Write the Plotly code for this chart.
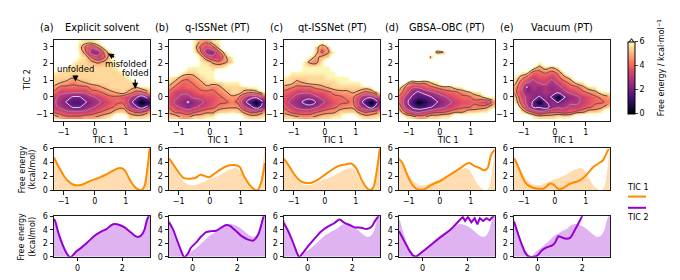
import plotly.graph_objects as go

W, H = 680, 280
FONT = "DejaVu Sans"

# ---------------- data ----------------
panel_letters = ["(a)", "(b)", "(c)", "(d)", "(e)"]
panel_names = ["Explicit solvent", "q-ISSNet (PT)", "qt-ISSNet (PT)", "GBSA–OBC (PT)", "Vacuum (PT)"]

# 2D free-energy grids (kcal/mol); rows from TIC2=3.3 (top) to -1.2 (bottom)
fes_x = [-1.3, -1.1, -0.9, -0.7, -0.5, -0.3, -0.1, 0.1, 0.3, 0.5, 0.7, 0.9, 1.1, 1.3, 1.5, 1.7]
fes_y = [3.3, 3.0, 2.7, 2.4, 2.1, 1.8, 1.5, 1.2, 0.9, 0.6, 0.3, 0.0, -0.3, -0.6, -0.9, -1.2]
# code letter -> free energy (kcal/mol); '.' = unsampled
fes_code = {'.': 8.0, '0': 0.0, 'a': 0.8, '1': 1.5, 'b': 2.0, '2': 2.5, 'c': 2.9, '3': 3.3,
            'd': 3.7, '4': 4.05, 'e': 4.4, '5': 4.75, 'f': 5.1, '6': 5.5, '7': 5.9}

fes_a = [
    "....7667........",
    "....643e6.......",
    "....7e22e6......",
    "....764346......",
    "...766f5f67.....",
    "..766666667.....",
    "766666666667....",
    "666f666666667...",
    "6f5e5f66666667..",
    "544444e5f6666f67",
    "43333344e5f65445",
    "3c2bb2c3d44d3212",
    "32b11b2c3d44c10a",
    "3c2bb2c3d4e53212",
    "4d3333d4e5665445",
    "65eee55f67..6667",
]
fes_b = [
    "....75e67.......",
    "....64346.......",
    "....7e2246......",
    ".....643357.....",
    ".....765e56.....",
    "...7777667......",
    "..766777........",
    "765e5677........",
    "6544e5666777....",
    "54d44e5e5666677.",
    "4333d444e5665e56",
    "d3cc33dd4e5e3223",
    "dc2b2c3d44e4210b",
    "43c2c3d4e5553212",
    "544d4e5566765445",
    "66556677....7667",
]
fes_c = [
    "......7.........",
    ".....6ef........",
    ".....6457.......",
    "....75f6........",
    "...75e7.........",
    "...77777........",
    ".77777777.......",
    "76666667777.....",
    "665f666667777...",
    "5e444e5f6666667.",
    "4d333dd4e55f54e6",
    "d3c22c3d44ee3223",
    "dc2b1bc3d44ec10b",
    "43c22c3d4e55321c",
    "54ddd4e5566654e5",
    "66f55f6677..7667",
]
fes_d = [
    "................",
    "................",
    "......e5........",
    ".....5..........",
    "................",
    "................",
    "................",
    "................",
    ".7e5ef7.........",
    "6433d4e5567.....",
    "5d2b2c3d44e567..",
    "4cb11b2c3d44e567",
    "4210a1b2c3dd4d3e",
    "5cb11b2c3d44ee56",
    "643c3d44e556677.",
    ".76556677.......",
]
fes_e = [
    "................",
    "................",
    "................",
    "................",
    "....7...........",
    "...756f7........",
    ".7644e4e7.......",
    "7543dd3456......",
    "643c33c34e67....",
    "5dbc2c2c344567..",
    "53222c22c3d4e567",
    "6dc2b2b0b2c3d4e5",
    "74cb0b2b2cc3d44e",
    ".53bb12cc33d4e56",
    ".7543d44d4e5667.",
    "...7666777......",
]
fes_maps = [fes_a, fes_b, fes_c, fes_d, fes_e]

# 1D free energy along TIC 1 (reference = explicit solvent, shaded)
tic1_ref_x = [-1.31, -1.2, -1.1, -1.0, -0.9, -0.8, -0.7, -0.6, -0.5, -0.4, -0.3, -0.2, -0.1, 0.0, 0.1,
              0.2, 0.3, 0.4, 0.5, 0.6, 0.7, 0.8, 0.9, 1.0, 1.1, 1.2, 1.3, 1.4, 1.5, 1.6, 1.7, 1.77]
tic1_ref_fe = [4.7, 3.7, 2.9, 2.1, 1.5, 1.1, 0.8, 0.7, 0.7, 0.8, 1.0, 1.2, 1.4, 1.55, 1.7,
               1.9, 2.1, 2.35, 2.6, 2.85, 3.05, 3.2, 3.1, 2.6, 1.7, 0.95, 0.4, 0.08, 0.0, 0.6, 3.4, 6.3]
tic1_b_x = [-1.31, -1.28, -1.12, -0.96, -0.85, -0.68, -0.47, -0.3, -0.2, -0.03, 0.13, 0.35, 0.57, 0.78,
            0.95, 1.1, 1.27, 1.43, 1.54, 1.65, 1.77]
tic1_b_fe = [4.6, 4.4, 3.35, 2.3, 1.75, 1.65, 1.75, 2.2, 2.1, 1.85, 2.3, 3.0, 3.5, 3.6,
             3.4, 2.0, 0.8, 0.1, 0.0, 1.05, 3.9]
tic1_c_x = [-1.31, -1.13, -0.97, -0.81, -0.65, -0.43, -0.22, 0.0, 0.22, 0.43, 0.65, 0.86, 1.02, 1.18,
            1.34, 1.45, 1.56, 1.72, 1.77]
tic1_c_fe = [4.5, 3.35, 2.2, 1.4, 1.05, 1.05, 1.5, 2.2, 2.9, 3.45, 3.7, 3.8, 3.1, 1.5,
             0.37, 0.0, 0.4, 4.3, 6.0]
tic1_d_x = [-1.31, -1.2, -1.09, -0.98, -0.87, -0.76, -0.65, -0.48, -0.32, -0.15, 0.01, 0.18, 0.34, 0.5,
            0.67, 0.84, 0.95, 1.11, 1.27, 1.43, 1.54, 1.65, 1.76]
tic1_d_fe = [4.5, 3.9, 2.7, 1.55, 0.7, 0.23, 0.05, 0.14, 0.6, 1.0, 1.3, 1.8, 2.25, 2.7,
             3.2, 3.75, 3.9, 3.5, 3.2, 2.85, 3.2, 5.1, 5.8]
tic1_e_x = [-1.31, -1.27, -1.16, -1.05, -0.95, -0.84, -0.68, -0.52, -0.36, -0.26, -0.15, -0.04, 0.06,
            0.17, 0.28, 0.44, 0.6, 0.76, 0.91, 1.07, 1.23, 1.39, 1.55, 1.66, 1.74]
tic1_e_fe = [4.6, 4.3, 3.2, 2.0, 1.1, 0.65, 0.3, 0.2, 0.2, 0.55, 0.95, 0.8, 0.33,
             0.1, 0.33, 0.8, 1.1, 1.3, 1.75, 2.45, 3.3, 3.8, 4.3, 5.3, 6.0]

# 1D free energy along TIC 2
tic2_ref_x = [-1.06, -1.0, -0.86, -0.71, -0.56, -0.41, -0.3, -0.19, -0.04, 0.18, 0.47, 0.77, 1.07,
              1.29, 1.51, 1.66, 1.88, 2.1, 2.33, 2.55, 2.7, 2.84, 2.99, 3.1, 3.24]
tic2_ref_fe = [5.6, 5.2, 3.5, 2.1, 0.94, 0.14, 0.0, 0.33, 0.85, 1.4, 2.25, 3.15, 3.75,
               4.1, 4.7, 4.85, 4.7, 4.35, 3.75, 3.15, 2.95, 3.15, 4.0, 5.4, 6.5]
tic2_b_x = [-1.06, -0.9, -0.68, -0.53, -0.38, -0.23, -0.08, 0.15, 0.38, 0.6, 0.83, 1.05, 1.28, 1.5,
            1.65, 1.88, 2.18, 2.48, 2.71, 2.93, 3.16, 3.24]
tic2_b_fe = [5.1, 4.2, 2.3, 1.0, 0.0, 0.4, 1.35, 2.1, 3.0, 3.65, 3.8, 3.85, 4.3, 4.7,
             4.6, 4.0, 3.1, 2.55, 2.4, 3.25, 5.8, 6.6]
tic2_c_x = [-1.08, -0.9, -0.68, -0.48, -0.38, -0.23, 0.0, 0.3, 0.6, 0.9, 1.2, 1.43, 1.65, 1.88, 2.11,
            2.41, 2.63, 2.86, 3.0, 3.16, 3.24]
tic2_c_fe = [5.05, 4.0, 2.3, 0.6, 0.0, 0.5, 1.5, 2.65, 3.75, 4.45, 5.0, 5.5, 5.0, 4.7, 4.35,
             4.3, 4.1, 4.45, 5.2, 6.0, 6.6]
tic2_d_x = [-1.06, -0.9, -0.75, -0.6, -0.45, -0.3, -0.15, 0.08, 0.38, 0.68, 0.98, 1.2, 1.35, 1.5, 1.65,
            1.8, 1.9, 2.03, 2.18, 2.33, 2.45, 2.56, 2.71, 2.86, 3.0, 3.16, 3.24]
tic2_d_fe = [3.8, 2.8, 1.9, 0.95, 0.25, 0.0, 0.4, 1.05, 1.8, 2.6, 3.3, 3.9, 4.35, 4.95, 5.4,
             5.9, 5.3, 5.9, 5.1, 5.7, 4.8, 5.7, 5.3, 5.7, 5.4, 6.0, 6.3]
tic2_e_x = [-1.06, -1.01, -0.87, -0.72, -0.57, -0.42, -0.19, 0.0, 0.18, 0.4, 0.63, 0.78, 0.93, 1.07,
            1.22, 1.45, 1.67, 1.9, 2.0, 2.1]
tic2_e_fe = [5.2, 4.7, 3.3, 1.9, 0.7, 0.1, 0.0, 0.23, 0.94, 1.4, 1.65, 2.1, 3.05, 2.9,
             2.7, 2.8, 4.0, 5.4, 6.1, 6.8]

tic1_lines = [(tic1_ref_x, tic1_ref_fe), (tic1_b_x, tic1_b_fe), (tic1_c_x, tic1_c_fe),
              (tic1_d_x, tic1_d_fe), (tic1_e_x, tic1_e_fe)]
tic2_lines = [(tic2_ref_x, tic2_ref_fe), (tic2_b_x, tic2_b_fe), (tic2_c_x, tic2_c_fe),
              (tic2_d_x, tic2_d_fe), (tic2_e_x, tic2_e_fe)]
tic2_shapes = ["spline", "spline", "spline", "linear", "spline"]

cbar_ticks = [0, 2, 4, 6]

# ---------------- styling ----------------
magma = ['#000004', '#140e36', '#3b0f70', '#641a80', '#8c2981', '#b73779',
         '#de4968', '#f7705c', '#fe9f6d', '#fecf92', '#fcfdbf']
magma_cs = [[k / 10, c] for k, c in enumerate(magma)]
heat_cs = [[0.075 * k, c] for k, c in enumerate(magma)] + [[0.80, '#fefee4'], [0.85, '#ffffff'], [1.0, '#ffffff']]
contour_levels = [(2.1, '#eee2fa'), (3.1, '#a88ab0'), (4.2, '#5a4655'), (4.95, '#353535')]

ORANGE = '#ff8c00'
PURPLE = '#9400d3'
ORANGE_FILL = 'rgba(255,140,0,0.30)'
PURPLE_FILL = 'rgba(148,0,211,0.30)'


def px_x(v):
    return v / W


def px_y(v):
    return 1 - v / H


def xdom(i):
    left = 46 + 115 * i
    return [px_x(left), px_x(left + 96)]


ROWS = {'top': (29, 113), 'mid': (141, 184), 'bot': (211, 253)}


def ydom(r):
    t, b = ROWS[r]
    return [px_y(b), px_y(t)]


axis_style = dict(showline=True, mirror=True, linecolor='#1a1a1a', linewidth=1, ticks='outside',
                  ticklen=3.5, tickwidth=0.8, tickcolor='#1a1a1a',
                  tickfont=dict(size=8, family=FONT, color='black'),
                  showgrid=False, zeroline=False, fixedrange=True)

fig = go.Figure()
layout = dict(width=W, height=H, margin=dict(l=0, r=0, t=0, b=0), showlegend=False,
              plot_bgcolor='white', paper_bgcolor='white', font=dict(family=FONT, color='black'))

annotations = []
shapes = []

for i in range(5):
    for row_k, row in enumerate(['top', 'mid', 'bot']):
        k = 1 + i + 5 * row_k
        xa = 'xaxis' if k == 1 else f'xaxis{k}'
        ya = 'yaxis' if k == 1 else f'yaxis{k}'
        xs = dict(axis_style, domain=xdom(i), anchor=f'y{k}' if k > 1 else 'y')
        ys = dict(axis_style, domain=ydom(row), anchor=f'x{k}' if k > 1 else 'x')
        if row == 'top':
            xs.update(range=[-1.31, 1.775], tickvals=[-1, 0, 1])
            ys.update(range=[-1.46, 3.41], tickvals=[-1, 0, 1, 2, 3])
        elif row == 'mid':
            xs.update(range=[-1.31, 1.775], tickvals=[-1, 0, 1])
            ys.update(range=[0, 6], tickvals=[0, 2, 4, 6])
        else:
            xs.update(range=[-1.06, 3.24], tickvals=[0, 2])
            ys.update(range=[0, 6], tickvals=[0, 2, 4, 6])
        layout[xa] = xs
        layout[ya] = ys

    # ---- 2D map ----
    k = 1 + i
    xr = 'x' if k == 1 else f'x{k}'
    yr = 'y' if k == 1 else f'y{k}'
    rows = fes_maps[i]
    for r in rows:
        assert len(r) == len(fes_x), (i, r)
    z = [[fes_code[ch] for ch in r] for r in rows][::-1]
    yy = fes_y[::-1]
    fig.add_trace(go.Heatmap(x=fes_x, y=yy, z=z, zmin=0, zmax=8, colorscale=heat_cs, zsmooth='best',
                             showscale=False, hoverinfo='skip', xaxis=xr, yaxis=yr))
    for lv, col in contour_levels:
        fig.add_trace(go.Contour(x=fes_x, y=yy, z=z, autocontour=False,
                                 contours=dict(start=lv, end=lv, size=1, coloring='none'),
                                 line=dict(color=col, width=0.9, smoothing=1.3),
                                 showscale=False, hoverinfo='skip', xaxis=xr, yaxis=yr))

    # ---- TIC 1 profile ----
    k = 6 + i
    xr, yr = f'x{k}', f'y{k}'
    fig.add_trace(go.Scatter(x=tic1_ref_x, y=tic1_ref_fe, mode='lines', fill='tozeroy',
                             fillcolor=ORANGE_FILL, line=dict(width=0, shape='spline', smoothing=0.8),
                             hoverinfo='skip', xaxis=xr, yaxis=yr))
    lx, ly = tic1_lines[i]
    fig.add_trace(go.Scatter(x=lx, y=ly, mode='lines',
                             line=dict(color=ORANGE, width=2, shape='spline', smoothing=0.8),
                             hoverinfo='skip', xaxis=xr, yaxis=yr))

    # ---- TIC 2 profile ----
    k = 11 + i
    xr, yr = f'x{k}', f'y{k}'
    fig.add_trace(go.Scatter(x=tic2_ref_x, y=tic2_ref_fe, mode='lines', fill='tozeroy',
                             fillcolor=PURPLE_FILL, line=dict(width=0, shape='spline', smoothing=0.8),
                             hoverinfo='skip', xaxis=xr, yaxis=yr))
    lx, ly = tic2_lines[i]
    lshape = dict(shape=tic2_shapes[i])
    if tic2_shapes[i] == 'spline':
        lshape['smoothing'] = 0.8
    fig.add_trace(go.Scatter(x=lx, y=ly, mode='lines',
                             line=dict(color=PURPLE, width=2, **lshape),
                             hoverinfo='skip', xaxis=xr, yaxis=yr))

    # ---- titles and labels ----
    left = 46 + 115 * i
    annotations.append(dict(text=panel_names[i], x=px_x(left + 48), y=px_y(16), xref='paper', yref='paper',
                            showarrow=False, xanchor='center', yanchor='middle',
                            font=dict(size=9.8, family=FONT, color='black')))
    annotations.append(dict(text=panel_letters[i], x=px_x(left - 16), y=px_y(16), xref='paper', yref='paper',
                            showarrow=False, xanchor='left', yanchor='middle',
                            font=dict(size=9.8, family=FONT, color='black')))
    annotations.append(dict(text='TIC 1', x=px_x(left + 48), y=px_y(133), xref='paper', yref='paper',
                            showarrow=False, xanchor='center', yanchor='middle',
                            font=dict(size=8, family=FONT, color='black')))

# y labels
annotations.append(dict(text='TIC 2', x=px_x(20), y=px_y(71), xref='paper', yref='paper', showarrow=False,
                        textangle=-90, xanchor='center', yanchor='middle', font=dict(size=8, family=FONT)))
for yc in (162.5, 232):
    annotations.append(dict(text='Free energy<br>(kcal/mol)', x=px_x(19), y=px_y(yc), xref='paper', yref='paper',
                            showarrow=False, textangle=-90, xanchor='center', yanchor='middle',
                            font=dict(size=8, family=FONT)))

# state labels in panel (a)
state_labels = [("unfolded", -0.62, 0.93, -0.62, 1.68),
                ("misfolded", 0.42, 2.6, 1.0, 2.0),
                ("folded", 1.3, 0.5, 1.3, 1.43)]
for txt, x0, y0, tx, ty in state_labels:
    annotations.append(dict(text=txt, x=x0, y=y0, ax=tx, ay=ty, xref='x', yref='y', axref='x', ayref='y',
                            showarrow=True, arrowhead=2, arrowsize=1, arrowwidth=1.2, arrowcolor='black',
                            standoff=0, font=dict(size=8.5, family=FONT, color='black')))

# colour bar
fig.add_trace(go.Scatter(x=[-9], y=[-9], mode='markers', xaxis='x', yaxis='y', hoverinfo='skip',
                         marker=dict(color=[0], colorscale=magma_cs, cmin=0, cmax=6, showscale=True,
                                     colorbar=dict(x=px_x(620), xanchor='left', y=px_y(105), yanchor='bottom',
                                                   len=72, lenmode='pixels', thickness=7, thicknessmode='pixels',
                                                   outlinewidth=1, outlinecolor='black', xpad=0, ypad=0,
                                                   tickvals=cbar_ticks, ticks='outside', ticklen=3,
                                                   tickwidth=0.8,
                                                   tickfont=dict(size=8, family=FONT, color='black')))))
shapes.append(dict(type='path', xref='paper', yref='paper',
                   path=f"M {px_x(620)},{px_y(33)} L {px_x(627)},{px_y(33)} L {px_x(623.5)},{px_y(27.5)} Z",
                   fillcolor='#fcfdbf', line=dict(color='black', width=1)))
annotations.append(dict(text='Free energy / kcal·mol<sup>−1</sup>', x=px_x(653), y=px_y(58), xref='paper',
                        yref='paper', showarrow=False, textangle=-90, xanchor='center', yanchor='middle',
                        font=dict(size=8, family=FONT, color='black')))

# legend
legend_items = [("TIC 1", ORANGE, 181, 190.7), ("TIC 2", PURPLE, 212, 202.3)]
for name, col, ty, ly in legend_items:
    shapes.append(dict(type='line', xref='paper', yref='paper', x0=px_x(620), x1=px_x(638),
                       y0=px_y(ly), y1=px_y(ly), line=dict(color=col, width=2)))
    annotations.append(dict(text=name, x=px_x(629.5), y=px_y(ty), xref='paper', yref='paper',
                            showarrow=False, xanchor='center', yanchor='middle',
                            font=dict(size=8, family=FONT, color='black')))

layout['annotations'] = annotations
layout['shapes'] = shapes
fig.update_layout(**layout)
fig.write_html("out.html")
